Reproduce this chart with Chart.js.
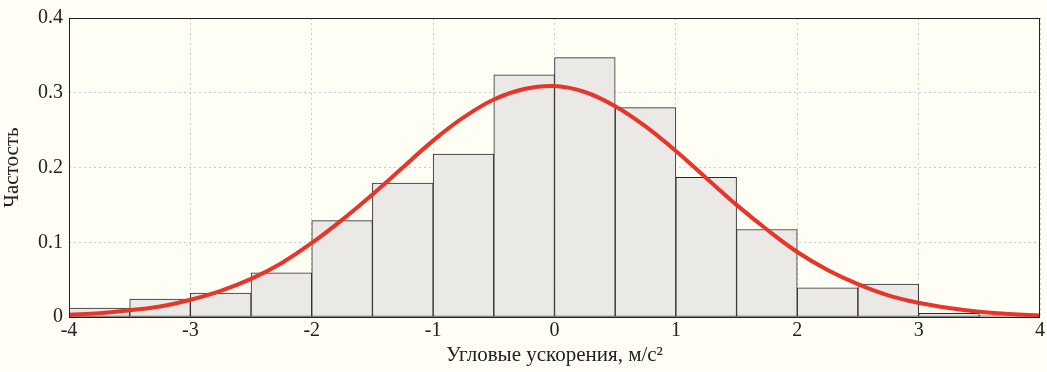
<!DOCTYPE html>
<html>
<head>
<meta charset="utf-8">
<script src="https://cdn.jsdelivr.net/npm/chart.js@4/dist/chart.umd.min.js"></script>
<style>
    html, body { margin: 0; padding: 0; background: #fffdf6; }
    #wrap { width: 1047px; height: 372px; position: relative; }
</style>
</head>
<body>
<div id="wrap"><canvas id="histChart"></canvas></div>
<script>
// histogram bin centres (bin width 0.5) and frequencies
const binCenters = [-3.75, -3.25, -2.75, -2.25, -1.75, -1.25, -0.75, -0.25, 0.25, 0.75, 1.25, 1.75, 2.25, 2.75, 3.25, 3.75];
const binFreq = [0.012, 0.024, 0.032, 0.059, 0.129, 0.179, 0.218, 0.324, 0.347, 0.280, 0.187, 0.117, 0.039, 0.044, 0.005, 0.002];

// fitted density curve, read at 0.25 steps
const curveX = [-4, -3.75, -3.5, -3.25, -3, -2.75, -2.5, -2.25, -2, -1.75, -1.5, -1.25, -1, -0.75, -0.5, -0.25, 0, 0.25, 0.5, 0.75, 1, 1.25, 1.5, 1.75, 2, 2.25, 2.5, 2.75, 3, 3.25, 3.5, 3.75, 4];
const curveY = [0.003, 0.005, 0.009, 0.014, 0.023, 0.035, 0.051, 0.072, 0.099, 0.130, 0.164, 0.200, 0.236, 0.267, 0.291, 0.305, 0.309, 0.301, 0.282, 0.255, 0.222, 0.186, 0.150, 0.117, 0.087, 0.063, 0.044, 0.029, 0.019, 0.012, 0.007, 0.004, 0.002];

const xTicks = [-4, -3, -2, -1, 0, 1, 2, 3, 4];
const yTicks = [0, 0.1, 0.2, 0.3, 0.4];

const fontFamily = '"Liberation Serif", "Times New Roman", serif';

// draws the full box around the plot like matlab does
const boxPlugin = {
    id: 'box',
    beforeDraw(chart) {
        const a = chart.chartArea;
        const ctx = chart.ctx;
        ctx.save();
        ctx.fillStyle = '#fffef4';
        ctx.fillRect(a.left, a.top, a.right - a.left, a.bottom - a.top);
        ctx.restore();
    },
    afterDraw(chart) {
        const a = chart.chartArea;
        const ctx = chart.ctx;
        ctx.save();
        ctx.strokeStyle = '#222';
        ctx.lineWidth = 1;
        ctx.strokeRect(a.left + 0.5, a.top + 0.5, a.right - a.left - 1, a.bottom - a.top);
        ctx.restore();
    }
};

const ctx = document.getElementById('histChart').getContext('2d');

new Chart(ctx, {
    type: 'bar',
    data: {
        datasets: [
            {
                type: 'line',
                label: 'fit',
                data: curveX.map((x, i) => ({ x: x, y: curveY[i] })),
                borderColor: '#e8352a',
                borderWidth: 4,
                pointRadius: 0,
                tension: 0.4,
                order: 0
            },
            {
                type: 'bar',
                label: 'hist',
                data: binCenters.map((x, i) => ({ x: x, y: binFreq[i] })),
                backgroundColor: '#ebe9e5',
                borderColor: '#2a2a2a',
                borderWidth: 1,
                borderSkipped: false,
                barPercentage: 1,
                categoryPercentage: 1,
                order: 1
            }
        ]
    },
    options: {
        responsive: true,
        maintainAspectRatio: false,
        animation: false,
        layout: { padding: { top: 16, right: 4, left: 0, bottom: 0 } },
        plugins: {
            legend: { display: false },
            tooltip: { enabled: false }
        },
        scales: {
            x: {
                type: 'linear',
                min: -4,
                max: 4,
                offset: false,
                afterBuildTicks: (axis) => { axis.ticks = xTicks.map(v => ({ value: v })); },
                afterFit: (axis) => { axis.height = 55; },
                ticks: {
                    color: '#222',
                    font: { family: fontFamily, size: 20 },
                    padding: 2,
                    maxRotation: 0
                },
                grid: {
                    color: '#c5ced6',
                    drawTicks: false,
                    offset: false
                },
                border: { display: false, dash: [2, 3] },
                title: {
                    display: true,
                    text: 'Угловые ускорения, м/с²',
                    color: '#222',
                    font: { family: fontFamily, size: 21 },
                    padding: { top: 0, bottom: 4 }
                }
            },
            y: {
                min: 0,
                max: 0.4,
                afterBuildTicks: (axis) => { axis.ticks = yTicks.map(v => ({ value: v })); },
                afterFit: (axis) => { axis.width = 69; },
                ticks: {
                    color: '#222',
                    font: { family: fontFamily, size: 20 },
                    padding: 6,
                    callback: (v) => String(Math.round(v * 10) / 10)
                },
                grid: {
                    color: '#c5ced6',
                    drawTicks: false
                },
                border: { display: false, dash: [2, 3] },
                title: {
                    display: true,
                    text: 'Частость',
                    color: '#222',
                    font: { family: fontFamily, size: 21 },
                    padding: { top: 0, bottom: 2 }
                }
            }
        }
    },
    plugins: [boxPlugin]
});
</script>
</body>
</html>
